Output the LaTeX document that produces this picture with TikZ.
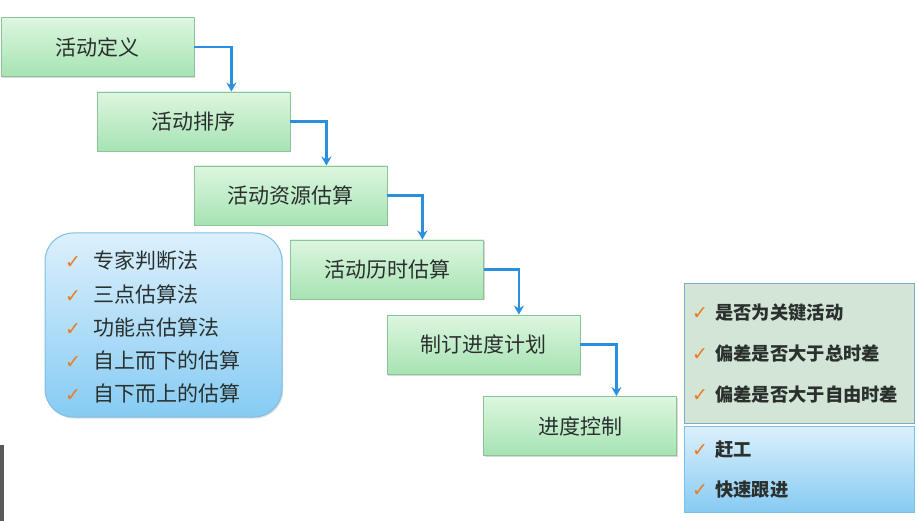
\documentclass[tikz,border=0pt]{standalone}
\usepackage{fontspec}
\newfontfamily\cjk{Noto Sans CJK SC}
\newfontfamily\symf{DejaVu Sans}
\usetikzlibrary{arrows.meta,shadows}
\definecolor{gtop}{HTML}{DDF6E0}
\definecolor{gbot}{HTML}{A6E3B2}
\definecolor{gline}{HTML}{8CC49A}
\definecolor{btop}{HTML}{DCF0FC}
\definecolor{bbot}{HTML}{86CBF3}
\definecolor{bline}{HTML}{7DBFE6}
\definecolor{arrc}{HTML}{2B8FE0}
\definecolor{chkc}{HTML}{EE7A22}
\definecolor{txt}{HTML}{2A302E}
\definecolor{panelg}{HTML}{D2E5D6}
\newcommand{\chk}{{\symf\fontsize{19}{19}\selectfont\textcolor{chkc}{✓}}}
\tikzset{
  gbox/.style={draw=gline, line width=0.8pt, top color=gtop, bottom color=gbot,
    minimum width=193pt, minimum height=59pt, inner sep=0pt,
    font=\cjk\fontsize{21}{21}\selectfont, text=txt,
    drop shadow={opacity=0.3, shadow xshift=1.2pt, shadow yshift=-1.5pt}},
  arr/.style={draw=arrc, line width=2.4pt, -{Stealth[length=9pt,width=10pt]}},
  item/.style={anchor=west, inner sep=0pt, text=txt, font=\cjk\fontsize{21}{21}\selectfont},
  ritem/.style={anchor=west, inner sep=0pt, text=txt, font=\cjk\bfseries\fontsize{18.3}{18.3}\selectfont},
}
\begin{document}
\begin{tikzpicture}[x=1pt,y=-1pt]
\useasboundingbox (0,0) rectangle (918,521);
\fill[white] (0,0) rectangle (918,521);
\fill[gray!70!black] (0,445) rectangle (4,521);

\node[gbox] (a1) at (97.5,47) {活动定义};
\node[gbox] (a2) at (193.5,121.5) {活动排序};
\node[gbox] (a3) at (290.5,195.5) {活动资源估算};
\node[gbox] (a4) at (387,269.5) {活动历时估算};
\node[gbox] (a5) at (483.5,344.5) {制订进度计划};
\node[gbox] (a6) at (580,426) {进度控制};

\draw[arr] (a1.east) -- ++(37,0) coordinate (t1) -- (t1 |- a2.north);
\draw[arr] (a2.east) -- ++(36,0) coordinate (t2) -- (t2 |- a3.north);
\draw[arr] (a3.east) -- ++(35,0) coordinate (t3) -- (t3 |- a4.north);
\draw[arr] (a4.east) -- ++(35,0) coordinate (t4) -- (t4 |- a5.north);
\draw[arr] (a5.east) -- ++(36,0) coordinate (t5) -- (t5 |- a6.north);

% left method box
\node[draw=bline, line width=1pt, rounded corners=28pt, top color=btop, bottom color=bbot,
  minimum width=237pt, minimum height=184pt, inner sep=0pt,
  drop shadow={opacity=0.25, shadow xshift=1.2pt, shadow yshift=-1.5pt}] (lb) at (163.5,325) {};
\node[item] (l1) at (65,261) {\makebox[28pt][l]{\chk}专家判断法};
\node[item] (l2) at (65,294) {\makebox[28pt][l]{\chk}三点估算法};
\node[item] (l3) at (65,327) {\makebox[28pt][l]{\chk}功能点估算法};
\node[item] (l4) at (65,360) {\makebox[28pt][l]{\chk}自上而下的估算};
\node[item] (l5) at (65,393) {\makebox[28pt][l]{\chk}自下而上的估算};

% right panels
\node[draw=bline!70!gray, line width=0.8pt, fill=panelg, minimum width=230pt, minimum height=140pt,
  inner sep=0pt, drop shadow={opacity=0.2, shadow xshift=1pt, shadow yshift=-1pt}] (rg) at (799,353) {};
\node[draw=bline, line width=0.8pt, top color=btop, bottom color=bbot, minimum width=230pt, minimum height=86pt,
  inner sep=0pt, drop shadow={opacity=0.2, shadow xshift=1pt, shadow yshift=-1pt}] (rb) at (799,469) {};
\node[ritem] (r1) at (692,313) {\makebox[23pt][l]{\chk}是否为关键活动};
\node[ritem] (r2) at (692,354) {\makebox[23pt][l]{\chk}偏差是否大于总时差};
\node[ritem] (r3) at (692,395) {\makebox[23pt][l]{\chk}偏差是否大于自由时差};
\node[ritem] (r4) at (692,450) {\makebox[23pt][l]{\chk}赶工};
\node[ritem] (r5) at (692,490) {\makebox[23pt][l]{\chk}快速跟进};
\end{tikzpicture}
\end{document}
